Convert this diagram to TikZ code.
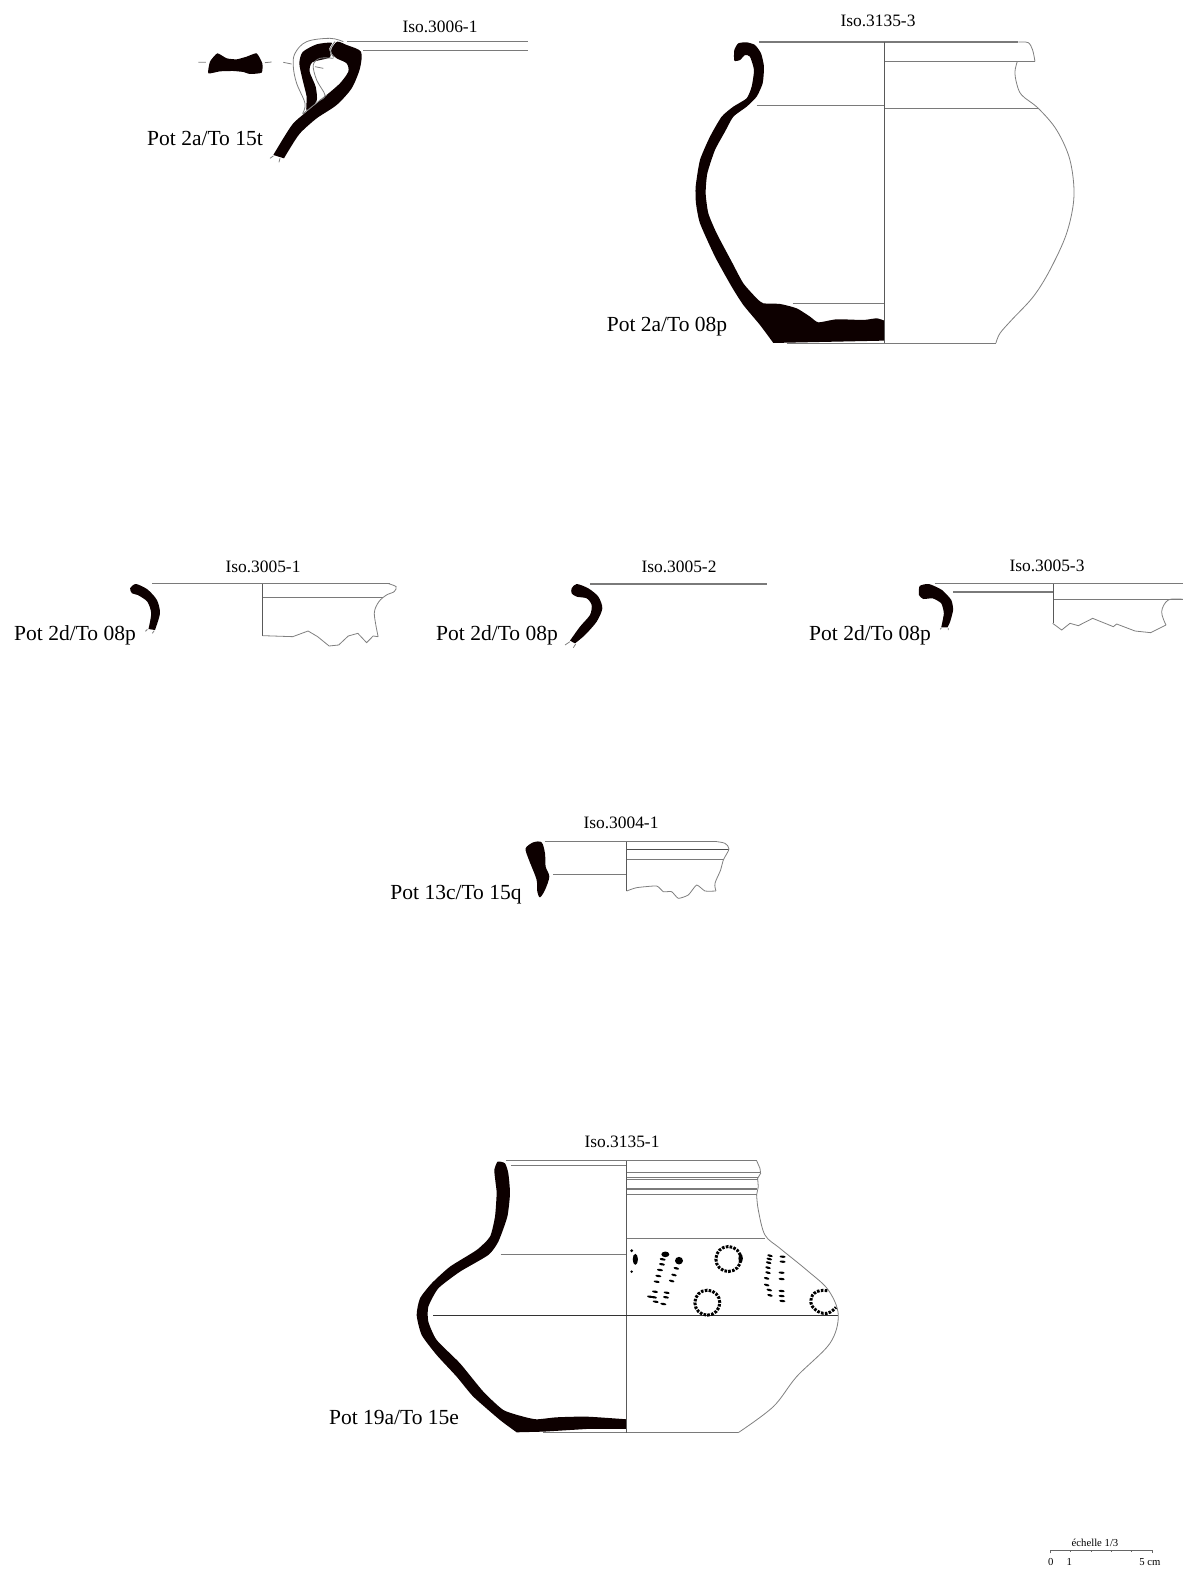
\documentclass[tikz,border=0pt]{standalone}
\usepackage{fontspec}
\setmainfont{Liberation Serif}
\tikzset{
 potlabel/.style={inner sep=0pt,font=\fontsize{21.5}{24}\selectfont},
 isolabel/.style={inner sep=0pt,font=\fontsize{17.4}{19}\selectfont},
 scalelabel/.style={inner sep=0pt,font=\fontsize{10.7}{12}\selectfont},
 ln/.style={draw=black!52,line width=1.05pt},
 lnthin/.style={draw=black!50,line width=0.8pt},
 axis/.style={draw=black!65,line width=1.1pt},
 profile/.style={fill=black!95!red},
 z1/.style={x=0.3333pt,y=-0.3333pt},
 ring/.style={draw=black,line width=3pt,dash pattern=on 2.6pt off 1.3pt},
}
\newcommand{\dashes}[3]{\foreach \a/\b in {#3} \fill[rotate around={#2:(\a,\b)}] (\a,\b) ellipse [x radius=#1,y radius=1.15pt];}
\begin{document}
\begin{tikzpicture}[x=1pt,y=-1pt]
\useasboundingbox (0,0) rectangle (1183,1596);
\fill[white] (0,0) rectangle (1183,1596);

% labels
\node[isolabel] (i1) at (440,27) {Iso.3006-1};
\node[isolabel] (i2) at (878,21) {Iso.3135-3};
\node[isolabel] (i3) at (263,567) {Iso.3005-1};
\node[isolabel] (i4) at (679,567) {Iso.3005-2};
\node[isolabel] (i5) at (1047,566) {Iso.3005-3};
\node[isolabel] (i6) at (621,823) {Iso.3004-1};
\node[isolabel] (i7) at (622,1142) {Iso.3135-1};
\node[potlabel] (p1) at (205,138) {Pot 2a/To 15t};
\node[potlabel] (p2) at (667,327) {Pot 2a/To 08p};
\node[potlabel] (p3) at (75,635) {Pot 2d/To 08p};
\node[potlabel] (p4) at (497,635) {Pot 2d/To 08p};
\node[potlabel] (p5) at (870,635) {Pot 2d/To 08p};
\node[potlabel] (p6) at (456,895) {Pot 13c/To 15q};
\node[potlabel] (p7) at (394,1417) {Pot 19a/To 15e};

% Pot 1: Iso.3006-1
\begin{scope}[shift={(130pt,0pt)},z1]
\fill[profile] plot[smooth,tension=0.45] coordinates {(430,465)(460,415)(490,370)(530,335)(590,285)(630,250)(655,215)(650,190)(620,175)(605,160)(605,145)(622,125)(650,135)(693,155)(690,205)(665,265)(620,315)(560,355)(510,400)(480,445)(462,475)} -- cycle;
\fill[profile] plot[smooth cycle,tension=0.4] coordinates {(605,128)(560,133)(518,156)(508,190)(518,240)(530,290)(530,332)(560,303)(557,260)(539,215)(547,187)(600,172)(598,145)};
\fill[profile] plot[smooth cycle,tension=0.3] coordinates {(235,220)(240,185)(262,160)(290,175)(320,178)(350,170)(380,160)(397,190)(395,218)(360,222)(340,216)(310,213)(270,214)};
\draw[lnthin] plot[smooth,tension=0.6] coordinates {(640,125)(600,115)(530,125)(495,160)(490,200)(500,250)(525,310)(518,340)};
\draw[lnthin] plot[smooth,tension=0.6] coordinates {(610,175)(570,175)(550,195)(560,240)(585,285)(570,300)};
\draw[lnthin] plot[smooth,tension=0.6] coordinates {(615,125)(600,150)(612,172)};
\draw[lnthin] (518,342) -- (590,285);
\draw[lnthin] (205,187)--(228,187) (405,188)--(425,186) (460,187)--(485,192) (555,200)--(580,205);
\draw[lnthin] (430,468)--(420,475) (450,475)--(447,487);
\draw[ln] (652,125)--(1195,125) (700,151)--(1195,151);
\end{scope}

% Pot 2: Iso.3135-3
\begin{scope}[shift={(600pt,0pt)},z1]
\fill[profile] plot[smooth,tension=0.35] coordinates {(520,1029)(480,975)(430,915)(395,860)(345,770)(300,670)(288,610)(287,560)(300,480)(330,410)(365,350)(400,320)(440,295)(455,260)(462,210)(450,170)(435,165)(420,180)(403,182)(403,150)(415,130)(440,127)(465,135)(483,160)(492,200)(488,250)(470,290)(440,320)(400,350)(375,395)(345,450)(322,520)(317,580)(325,640)(350,700)(395,785)(430,850)(470,895)(490,910)(540,912)(590,925)(630,950)(655,967)(710,958)(790,960)(830,955)(853,962)} -- (853,1022) -- cycle;
\draw[ln] (478,126)--(1255,126) (853,184)--(1305,184) (470,317)--(853,317) (853,325)--(1315,325) (578,911)--(853,911) (560,1030)--(1188,1030);
\draw[axis] (853,126)--(853,1030);
\draw[lnthin] plot[smooth,tension=0.5] coordinates {(1255,126)(1285,128)(1298,150)(1305,184)};
\draw[lnthin] plot[smooth,tension=0.55] coordinates {(1252,184)(1245,215)(1250,250)(1265,285)(1315,325)(1370,390)(1410,480)(1422,590)(1400,700)(1350,810)(1300,890)(1235,960)(1200,1000)(1188,1029)};
\end{scope}

% Iso.3005-1
\begin{scope}[shift={(0pt,-550pt)},x=0.3827pt,y=-0.3333pt]
\fill[profile] plot[smooth,tension=0.45] coordinates {(388,237)(395,190)(385,155)(360,135)(345,130)(340,115)(355,102)(385,118)(410,150)(418,190)(405,240)} -- cycle;
\draw[lnthin] (385,238)--(380,244) (403,242)--(398,250);
\draw[ln] (398,101)--(1020,101) (686,142)--(1000,142);
\draw[axis] (686,101)--(686,257);
\draw[lnthin] plot[smooth,tension=0.5] coordinates {(1015,101)(1035,110)(1030,125)(1010,135)(990,155)(978,190)(988,260)};
\draw[lnthin] (686,257)--(765,260)--(805,243)--(830,260)--(860,288)--(885,285)--(910,258)--(935,250)--(958,278)--(975,258)--(988,260);
\end{scope}

% Iso.3005-2
\begin{scope}[shift={(555pt,-570pt)},z1]
\fill[profile] plot[smooth,tension=0.45] coordinates {(45,212)(75,170)(105,135)(110,105)(95,85)(65,80)(50,70)(50,55)(65,42)(100,55)(130,80)(142,115)(125,155)(90,195)(60,220)} -- cycle;
\draw[lnthin] (45,215)--(30,225) (62,222)--(55,233);
\draw[ln] (105,42)--(636,42);
\end{scope}

% Iso.3005-3
\begin{scope}[shift={(600pt,-550pt)},x=0.3717pt,y=-0.3333pt]
\fill[profile] plot[smooth,tension=0.35] coordinates {(918,232)(925,190)(918,160)(895,145)(870,147)(858,135)(860,108)(885,102)(920,120)(945,150)(950,180)(942,215)(935,232)} -- cycle;
\draw[lnthin] (918,234)--(915,238) (937,234)--(937,240);
\draw[ln] (900,101)--(1568,101) (950,126)--(1218,126);
\end{scope}
\begin{scope}[shift={(1020pt,-570pt)},z1]
\draw[ln] (100,88)--(490,88);
\draw[axis] (100,42)--(100,160);
\draw[lnthin] (98,160)--(125,180)--(150,160)--(175,167)--(218,145)--(280,170)--(290,162)--(345,183)--(392,188)--(438,165);
\draw[lnthin] plot[smooth,tension=0.6] coordinates {(438,165)(425,125)(445,90)(490,88)};
\end{scope}

% Iso.3004-1
\begin{scope}[shift={(380pt,-810pt)},z1]
\fill[profile] plot[smooth cycle,tension=0.5] coordinates {(437,115)(460,97)(485,97)(495,130)(497,170)(508,200)(495,240)(480,262)(472,245)(470,210)(455,170)(445,145)};
\draw[ln] (495,95)--(1010,95) (740,148)--(1030,148) (520,194)--(740,194);
\draw[draw=black!70,line width=1.4pt] (740,119)--(1047,119);
\draw[axis] (740,95)--(740,243);
\draw[lnthin] plot[smooth,tension=0.5] coordinates {(1010,95)(1035,100)(1047,117)(1030,150)(1022,180)(1005,220)(1008,243)};
\draw[lnthin] plot[smooth,tension=0.3] coordinates {(740,243)(770,233)(830,228)(850,245)(875,245)(895,265)(925,255)(950,225)(975,243)(1008,243)};
\end{scope}

% Iso.3135-1
\begin{scope}[shift={(400pt,-1130pt)},z1]
\fill[profile] plot[smooth,tension=0.35] coordinates {(350,907)(300,870)(220,800)(170,740)(110,675)(65,615)(50,555)(60,505)(95,460)(150,410)(230,360)(270,320)(285,260)(290,190)(287,160)(283,120)(293,95)(315,100)(325,130)(330,190)(322,260)(295,335)(265,375)(180,425)(115,475)(85,530)(85,575)(110,630)(180,700)(250,785)(310,840)(370,860)(410,868)(470,862)(560,860)(680,868)} -- (680,897) -- (560,897) -- (430,905) -- cycle;
\draw[ln] (318,92)--(1070,92) (333,106)--(680,106) (680,128)--(1082,128) (680,143)--(1075,143) (680,148)--(1075,148) (680,177)--(1072,177) (680,193)--(1070,193) (680,325)--(1095,325) (302,374)--(680,374) (430,908)--(1015,908);
\draw[axis] (680,92)--(680,908);
\draw[draw=black!80,line width=0.8pt] (100,555)--(1315,555);
\draw[lnthin] (1070,92)--(1080,115)--(1082,130)--(1073,145)--(1075,170)--(1070,195);
\draw[lnthin] plot[smooth,tension=0.55] coordinates {(1070,195)(1075,240)(1095,315)(1140,355)(1220,420)(1285,480)(1315,555)(1290,640)(1190,740)(1120,830)(1015,908)};
\end{scope}

% decoration on Iso.3135-1
\begin{scope}[shift={(610pt,-1220pt)},z1]
\draw[ring] (355,117) circle (12.5pt);
\draw[ring] (292,248) circle (12.5pt);
\draw[ring] plot[smooth,tension=0.8] coordinates {(652,212)(620,215)(603,240)(615,268)(650,280)(678,262)};
\fill (392,115) ellipse [x radius=2.2pt,y radius=4.5pt];
\fill (76,118) ellipse [x radius=2.6pt,y radius=5.5pt];
\fill (65,92) circle (1.6pt);
\fill (65,155) circle (1.4pt);
\fill (166,103) ellipse [x radius=4pt,y radius=2.8pt];
\fill (207,122) ellipse [x radius=4pt,y radius=3.8pt];
\dashes{3pt}{-10}{158/118,156/133,150/150,145/168,140/185,135/215,132/232,160/252,170/218,168/232,120/230,137/245}
\dashes{2.8pt}{-15}{199/145,192/165,185/183}
\dashes{2.8pt}{-15}{480/107,478/117,476/128,474/143,474/158,470/175,470/195,478/210,480/226}
\dashes{3pt}{-5}{518/110,518/125,515/158,515/177,515/213,515/228,517/243}
\end{scope}

% scale
\begin{scope}[shift={(1030pt,-1520pt)},z1]
\node[scalelabel] (s0) at (195,67) {échelle 1/3};
\node[scalelabel] (s1) at (62,125) {0};
\node[scalelabel] (s2) at (118,125) {1};
\node[scalelabel] (s3) at (360,125) {5 cm};
\draw[draw=black!60,line width=0.7pt] (62,100)--(62,90)--(366,90)--(366,100) (122,90)--(122,97) (184,90)--(184,97) (245,90)--(245,97) (305,90)--(305,97);
\end{scope}
\end{tikzpicture}
\end{document}
